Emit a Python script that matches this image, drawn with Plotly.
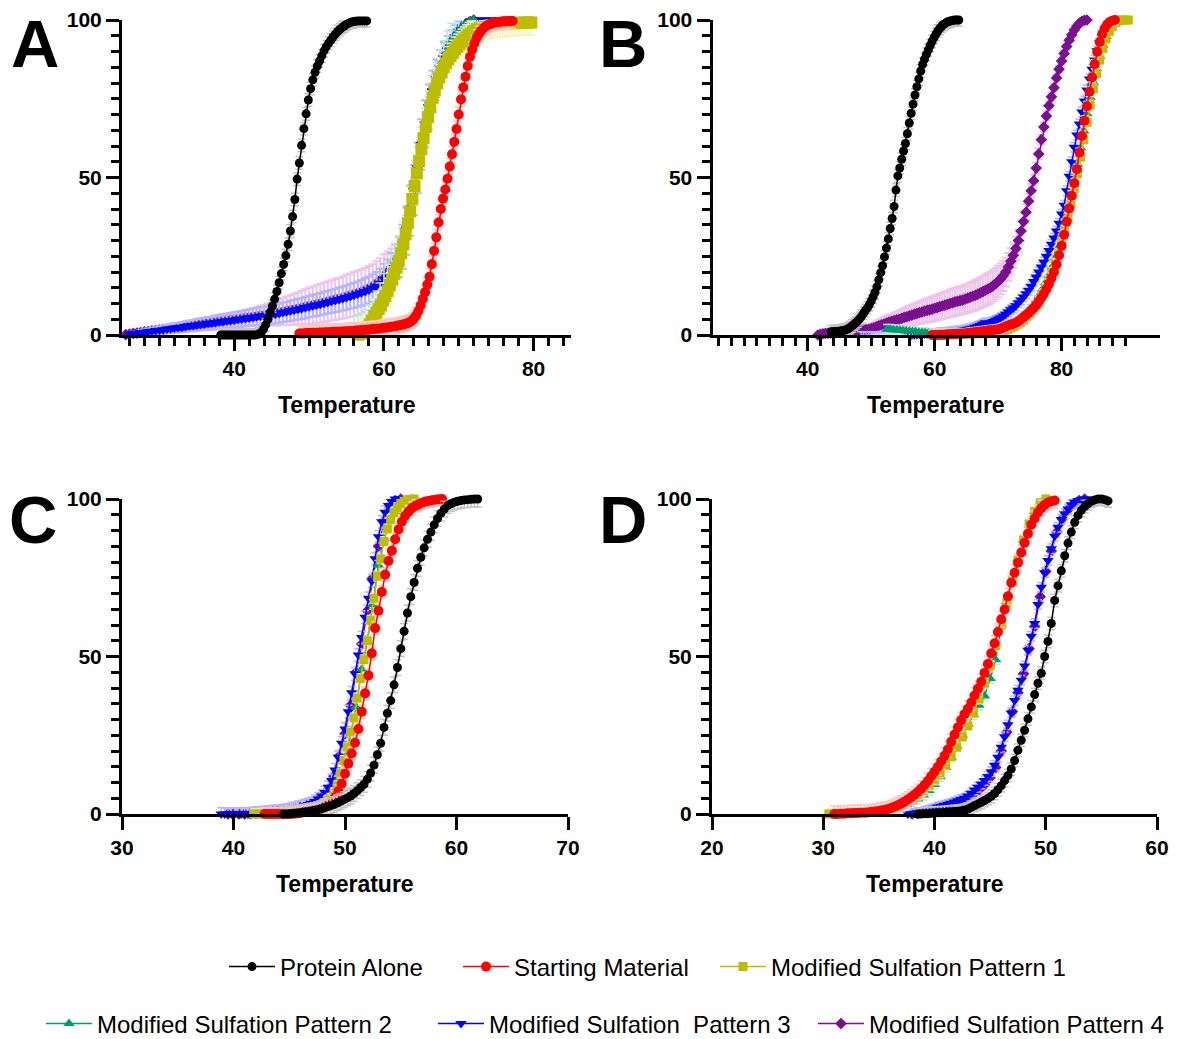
import plotly.graph_objects as go

FONT = "Arial, 'Liberation Sans', Helvetica, sans-serif"
W, H = 1180, 1039

# ---------------------------------------------------------------- series
NAMES = ["Protein Alone", "Starting Material", "Modified Sulfation Pattern 1",
         "Modified Sulfation Pattern 2", "Modified Sulfation\u00a0 Pattern 3",
         "Modified Sulfation Pattern 4"]
COLORS = ["#000000", "#FF0000", "#BDBD00", "#009B6E", "#0000FF", "#7A0F90"]
ERR_COLORS = ["#C4C4C4", "#FFC6C6", "#F5F5BE", "#B4EEDC", "#B4B4FF", "#EEC4EA"]
SYMBOLS = ["circle", "circle", "square", "triangle-up", "triangle-down", "diamond"]
SIZES = [9, 10, 9, 10, 10, 9]
SIZE_OVERRIDE = {("A", 2): 12}

# ---------------------------------------------------------------- panel A
a_protein_start, a_protein_step, a_protein_sd = 38.2, 0.3, 2.0
a_protein = [0, 0, 0, 0, 0, 0, 0, 0, 0, 0,
             0, 0, 0, 0, 0, 0, 0.1, 0.3, 0.8, 1.8,
             3.2, 5.0, 7.2, 9.2, 11.4, 13.8, 16.6, 19.5, 22.4, 25.2,
             28.8, 33.0, 37.6, 43.0, 49.5, 54.6, 60.2, 65.5, 70.2, 74.6,
             78.2, 81.0, 83.4, 85.4, 87.0, 88.6, 90.2, 91.5, 92.6, 93.6,
             94.6, 95.5, 96.3, 97.0, 97.6, 98.1, 98.6, 99.0, 99.3, 99.5,
             99.6, 99.7, 99.7, 99.7, 99.7, 99.7]

a_start_start, a_start_step, a_start_sd = 48.7, 0.3, 2.5
a_start = [0.5, 0.5, 0.5, 0.6, 0.6, 0.6, 0.7, 0.7, 0.7, 0.8,
           0.8, 0.8, 0.9, 0.9, 0.9, 1.0, 1.0, 1.0, 1.0, 1.1,
           1.1, 1.2, 1.2, 1.3, 1.3, 1.4, 1.4, 1.5, 1.5, 1.6,
           1.7, 1.7, 1.8, 1.9, 1.9, 2.0, 2.1, 2.2, 2.3, 2.4,
           2.5, 2.6, 2.7, 2.8, 3.0, 3.1, 3.3, 3.5, 3.7, 4.0,
           4.5, 5.2, 6.2, 7.6, 9.4, 11.5, 13.6, 16.0, 18.5, 22.5,
           26.7, 31.0, 35.7, 40.0, 43.3, 46.2, 49.6, 53.5, 57.4, 61.3,
           65.4, 70.0, 74.8, 78.6, 82.0, 85.4, 88.3, 90.6, 92.6, 94.4,
           95.6, 96.6, 97.4, 98.0, 98.4, 98.7, 99.0, 99.2, 99.3, 99.4,
           99.5, 99.6, 99.6, 99.7, 99.7, 99.7]

a_p1_start, a_p1_step, a_p1_sd = 53.0, 0.3, 4.0
a_p1 = [-0.8, -0.8, -0.8, -0.7, -0.7, -0.7, -0.6, -0.6, -0.5, -0.5,
        -0.4, -0.2, 0.1, 0.4, 0.9, 1.6, 2.4, 3.4, 4.6, 6.0,
        7.1, 8.2, 9.5, 10.9, 12.4, 14.0, 15.8, 17.6, 19.4, 21.4,
        23.6, 26.0, 28.8, 32.0, 35.5, 39.2, 43.2, 47.3, 51.3, 55.2,
        59.0, 62.5, 66.0, 69.2, 72.4, 75.3, 77.7, 79.9, 81.8, 83.5,
        85.0, 86.3, 87.5, 88.6, 89.6, 90.6, 91.5, 92.3, 93.1, 93.8,
        94.5, 95.2, 95.7, 96.2, 96.6, 97.0, 97.3, 97.6, 97.8, 98.0,
        98.2, 98.3, 98.4, 98.5, 98.6, 98.7, 98.7, 98.8, 98.8, 98.9,
        98.9, 99.0, 99.0, 99.1, 99.1, 99.1, 99.2, 99.2, 99.2, 99.2]

a_p2_start, a_p2_step, a_p2_sd = 56.0, 0.5, 6.0
a_p2 = [0.0, 0.3, 1.0, 2.0, 3.5, 5.5, 8.0, 10.5, 13.5, 16.5,
        19.5, 22.5, 25.5, 30.0, 35.0, 41.0, 47.0, 53.5, 60.0, 66.0,
        71.5, 76.5, 80.5, 84.5, 87.5, 90.5, 93.0, 95.0, 96.5, 97.8,
        98.8, 99.5, 100]

a_p3_start, a_p3_step = 26.0, 0.5
a_p3 = [0.3, 0.5, 0.6, 0.8, 0.9, 1.1, 1.2, 1.4, 1.5, 1.7,
        1.9, 2.0, 2.2, 2.4, 2.5, 2.7, 2.9, 3.0, 3.2, 3.4,
        3.5, 3.7, 3.8, 4.0, 4.2, 4.3, 4.5, 4.6, 4.8, 5.0,
        5.1, 5.3, 5.5, 5.6, 5.8, 6.0, 6.1, 6.3, 6.5, 6.7,
        6.9, 7.2, 7.4, 7.7, 7.9, 8.2, 8.4, 8.7, 9.0, 9.3,
        9.5, 9.8, 10.1, 10.4, 10.7, 11.0, 11.3, 11.6, 11.9, 12.3,
        12.6, 13.0, 13.4, 13.8, 14.3, 14.9, 15.5, 16.4, 17.8, 19.0,
        20.5, 22.5, 24.8, 28.0, 33.0, 39.5, 46.0, 53.0, 60.5, 67.0,
        72.5, 77.5, 81.5, 85.0, 88.0, 90.5, 92.8, 94.8, 96.5, 97.8,
        98.8, 99.5, 100, 100, 100, 100, 100, 100, 100, 100]
a_p3_sd = [0.5, 0.6, 0.7, 0.8, 0.9, 1.0, 1.0, 1.1, 1.2, 1.3,
           1.3, 1.4, 1.5, 1.5, 1.6, 1.7, 1.7, 1.8, 1.9, 1.9,
           2.0, 2.0, 2.1, 2.2, 2.2, 2.3, 2.3, 2.4, 2.4, 2.5,
           2.5, 2.6, 2.6, 2.7, 2.7, 2.8, 2.8, 2.9, 2.9, 3.0,
           3.0, 3.1, 3.1, 3.2, 3.2, 3.3, 3.3, 3.4, 3.4, 3.5,
           3.5, 3.5, 3.6, 3.6, 3.7, 3.7, 3.8, 3.8, 3.9, 3.9,
           4.0, 4.0, 4.1, 4.2, 4.3, 4.4, 4.5, 4.6, 4.8, 5.0,
           5.5, 6.0, 6.5, 7.0, 7.5, 8.0, 8.0, 8.0, 8.0, 7.5,
           7.0, 6.5, 6.0, 5.5, 5.0, 4.5, 4.0, 3.5, 3.0, 2.5,
           2.0, 1.5, 1.0, 0.5, 0.0, 0.0, 0.0, 0.0, 0.0, 0.0]

a_p4_start, a_p4_step = 25.5, 0.5
a_p4 = [0.1, 0.3, 0.5, 0.6, 0.8, 1.0, 1.1, 1.3, 1.4, 1.6,
        1.8, 1.9, 2.1, 2.3, 2.4, 2.6, 2.8, 2.9, 3.1, 3.3,
        3.4, 3.6, 3.8, 3.9, 4.1, 4.3, 4.4, 4.6, 4.8, 4.9,
        5.1, 5.3, 5.5, 5.6, 5.8, 6.0, 6.2, 6.3, 6.5, 6.7,
        6.9, 7.2, 7.4, 7.7, 7.9, 8.2, 8.4, 8.7, 9.0, 9.3,
        9.5, 9.8, 10.1, 10.4, 10.7, 11.0, 11.3, 11.6, 11.9, 12.3,
        12.6, 13.0, 13.4, 13.8, 14.3, 14.9, 15.5, 16.4, 17.4, 18.6,
        20.0, 21.5, 23.5, 26.0, 29.5, 34.0, 40.0, 46.5, 53.5, 61.0,
        67.5, 73.0, 78.0, 82.0, 85.5, 88.5, 91.0, 93.2, 95.0, 96.6,
        97.9, 98.9, 99.5, 100]
a_p4_sd = [0.2, 0.2, 0.3, 0.3, 0.4, 0.4, 0.5, 0.5, 0.6, 0.6,
           0.7, 0.7, 0.8, 0.8, 0.9, 0.9, 1.0, 1.0, 1.1, 1.1,
           1.2, 1.2, 1.3, 1.4, 1.5, 1.6, 1.7, 1.8, 1.9, 2.0,
           2.1, 2.2, 2.3, 2.5, 2.7, 2.9, 3.1, 3.3, 3.5, 3.7,
           3.9, 4.1, 4.3, 4.5, 4.7, 4.9, 5.1, 5.3, 5.5, 5.7,
           5.9, 6.0, 6.1, 6.2, 6.3, 6.4, 6.5, 6.6, 6.7, 6.8,
           6.9, 7.0, 7.0, 7.0, 7.0, 7.0, 7.0, 7.0, 7.0, 7.0,
           6.5, 6.0, 5.5, 5.0, 4.5, 4.0, 3.5, 3.0, 2.5, 2.5,
           2.5, 2.5, 2.0, 2.0, 1.5, 1.5, 1.0, 1.0, 1.0, 1.0,
           0.5, 0.5, 0.0, 0.0]

# ---------------------------------------------------------------- panel B
b_protein_start, b_protein_step, b_protein_sd = 43.7, 0.3, 2.0
b_protein = [1.0, 1.0, 1.1, 1.1, 1.2, 1.3, 1.4, 1.5, 1.7, 2.0,
             2.4, 2.9, 3.4, 3.9, 4.5, 5.2, 6.0, 6.9, 7.8, 8.6,
             9.6, 10.8, 12.1, 13.5, 15.3, 17.5, 19.8, 22.0, 24.8, 27.6,
             30.5, 33.8, 37.0, 40.8, 46.0, 50.5, 53.0, 55.8, 58.4, 60.8,
             63.9, 67.3, 70.4, 73.3, 76.2, 78.8, 81.3, 83.8, 85.9, 87.6,
             89.1, 90.5, 91.9, 93.2, 94.4, 95.5, 96.5, 97.3, 98.0, 98.6,
             99.0, 99.4, 99.6, 99.8, 99.9, 100, 100, 100]

b_start_start, b_start_step, b_start_sd = 59.6, 0.4, 1.5
b_start = [0.0, 0.0, 0.0, 0.1, 0.1, 0.1, 0.2, 0.2, 0.3, 0.3,
           0.4, 0.4, 0.5, 0.5, 0.6, 0.7, 0.8, 0.9, 1.0, 1.1,
           1.2, 1.3, 1.4, 1.5, 1.6, 1.7, 1.8, 2.0, 2.4, 2.7,
           3.0, 3.3, 3.6, 3.9, 4.4, 5.0, 5.6, 6.3, 7.0, 7.8,
           8.6, 9.5, 10.6, 11.8, 13.1, 14.6, 16.3, 18.1, 20.0, 22.4,
           25.3, 28.3, 31.8, 36.0, 40.2, 44.2, 48.2, 52.6, 57.9, 63.2,
           68.0, 72.6, 77.2, 81.8, 86.0, 89.9, 93.0, 95.6, 97.4, 98.6,
           99.4, 99.8, 100]

b_p1_start, b_p1_step, b_p1_sd = 60.0, 0.5, 1.5
b_p1 = [0.0, 0.0, 0.0, 0.0, 0.1, 0.1, 0.1, 0.2, 0.2, 0.2,
        0.3, 0.3, 0.4, 0.4, 0.5, 0.6, 0.7, 0.8, 0.9, 1.0,
        1.1, 1.3, 1.5, 1.8, 2.2, 2.7, 3.3, 4.0, 4.8, 5.8,
        6.9, 8.1, 9.5, 11.1, 12.9, 14.9, 17.2, 19.8, 22.8, 26.0,
        29.5, 33.3, 37.4, 41.8, 46.4, 51.2, 56.5, 62.0, 67.5, 73.0,
        78.2, 83.0, 87.3, 91.0, 94.0, 96.4, 98.0, 99.2, 99.8, 100,
        100, 100]

b_p2_start, b_p2_step, b_p2_sd = 52.5, 0.5, 1.5
b_p2 = [1.8, 1.8, 1.7, 1.6, 1.5, 1.4, 1.3, 1.2, 1.1, 1.0,
        0.9, 0.8, 0.7, 0.6, 0.5, 0.4, 0.4, 0.3, 0.3, 0.3,
        0.3, 0.3, 0.3, 0.3, 0.4, 0.4, 0.5, 0.5, 0.6, 0.7,
        0.8, 0.9, 1.0, 1.1, 1.3, 1.5, 1.8, 2.1, 2.5, 3.0,
        3.6, 4.3, 5.1, 6.0, 7.0, 8.2, 9.5, 11.0, 12.7, 14.6,
        16.7, 19.0, 21.6, 24.5, 27.8, 31.4, 35.4, 39.8, 44.4, 49.2,
        54.2, 59.4, 64.8, 70.2, 75.4, 80.2, 84.6, 88.5, 92.0, 94.8,
        97.0, 98.5, 99.5, 100]

b_p3_start, b_p3_step, b_p3_sd = 48.4, 0.4, 1.5
b_p3 = [-0.5, -0.6, -0.6, -0.6, -0.6, -0.5, -0.5, -0.5, -0.4, -0.4,
        -0.4, -0.3, -0.3, -0.3, -0.2, -0.2, -0.2, -0.1, -0.1, 0.0,
        0.0, 0.1, 0.1, 0.2, 0.2, 0.3, 0.3, 0.4, 0.5, 0.5,
        0.6, 0.7, 0.7, 0.8, 0.9, 1.0, 1.1, 1.2, 1.3, 1.4,
        1.5, 1.6, 1.8, 2.0, 2.2, 2.5, 2.8, 3.1, 3.5, 3.9,
        3.6, 3.9, 4.3, 4.7, 5.1, 5.5, 6.0, 6.6, 7.3, 8.0,
        8.6, 9.3, 10.2, 11.1, 12.1, 13.1, 14.2, 15.5, 17.0, 18.4,
        20.0, 21.6, 23.2, 25.0, 26.8, 28.8, 30.8, 33.0, 35.5, 38.4,
        41.2, 45.8, 50.4, 55.0, 59.6, 63.5, 67.0, 70.8, 74.3, 77.8,
        81.3, 84.4, 87.3, 90.2, 92.7, 94.8, 96.6, 98.0, 99.0, 99.7,
        100]

b_p4_start, b_p4_step = 41.6, 0.4
b_p4 = [0.0, 0.2, 0.4, 0.5, 0.6, 0.7, 0.8, 0.9, 1.0, 1.0,
        1.1, 1.1, 1.2, 1.3, 1.3, 1.4, 1.5, 1.6, 1.7, 1.7,
        1.8, 2.0, 2.3, 2.6, 2.9, 3.2, 3.5, 3.8, 4.1, 4.3,
        4.6, 4.8, 5.0, 5.3, 5.6, 5.8, 6.1, 6.3, 6.6, 6.8,
        7.1, 7.3, 7.6, 7.8, 8.0, 8.2, 8.5, 8.7, 9.0, 9.2,
        9.5, 9.7, 10.0, 10.2, 10.5, 10.7, 10.9, 11.1, 11.4, 11.7,
        12.0, 12.3, 12.6, 13.0, 13.4, 13.8, 14.2, 14.6, 15.0, 15.6,
        16.3, 17.0, 17.8, 18.8, 20.0, 21.6, 23.4, 25.3, 27.5, 30.0,
        33.0, 36.0, 39.0, 42.5, 45.8, 49.0, 53.0, 57.5, 62.0, 66.0,
        69.5, 72.8, 75.6, 78.5, 81.6, 84.4, 87.0, 89.4, 91.6, 93.6,
        95.3, 96.8, 98.0, 99.0, 99.6, 99.9, 100]
b_p4_sd = [0.5, 0.6, 0.7, 0.8, 0.8, 0.9, 0.9, 1.0, 1.0, 1.0,
           1.0, 1.1, 1.1, 1.2, 1.2, 1.3, 1.3, 1.4, 1.4, 1.5,
           1.5, 1.6, 1.7, 1.8, 1.9, 2.0, 2.1, 2.2, 2.3, 2.4,
           2.5, 2.6, 2.7, 2.8, 2.9, 3.0, 3.1, 3.2, 3.3, 3.4,
           3.5, 3.6, 3.7, 3.8, 3.9, 4.0, 4.0, 4.1, 4.1, 4.2,
           4.2, 4.3, 4.3, 4.4, 4.4, 4.5, 4.5, 4.5, 4.6, 4.6,
           4.7, 4.7, 4.8, 4.8, 4.9, 4.9, 5.0, 5.0, 5.0, 5.0,
           5.0, 5.0, 4.9, 4.8, 4.6, 4.4, 4.2, 4.0, 3.7, 3.4,
           3.1, 2.8, 2.5, 2.3, 2.1, 1.9, 1.8, 1.7, 1.6, 1.5,
           1.4, 1.3, 1.2, 1.1, 1.0, 1.0, 0.9, 0.8, 0.7, 0.6,
           0.5, 0.4, 0.3, 0.3, 0.2, 0.1, 0.0]

# ---------------------------------------------------------------- panel C
c_protein_start, c_protein_step, c_protein_sd = 44.5, 0.3, 2.5
c_protein = [0, 0, 0.1, 0.2, 0.3, 0.4, 0.6, 0.7, 0.9, 1.1,
             1.3, 1.6, 1.9, 2.3, 2.6, 3.0, 3.5, 4.0, 4.6, 5.1,
             5.7, 6.5, 7.4, 8.4, 9.4, 11.0, 13.0, 15.5, 18.8, 22.5,
             27.5, 32.0, 36.0, 41.0, 46.5, 52.5, 58.0, 63.8, 69.0, 73.5,
             78.0, 81.5, 84.5, 87.2, 89.5, 91.8, 93.8, 95.5, 96.8, 97.9,
             98.5, 99.0, 99.3, 99.5, 99.7, 99.8, 99.9, 100, 100]

c_start_start, c_start_step, c_start_sd = 42.8, 0.3, 2.0
c_start = [0, 0, 0, 0, 0, 0, 0, 0, 0, 0.1,
           0.2, 0.4, 0.6, 0.8, 1.0, 1.2, 1.4, 1.7, 2.3, 3.0,
           4.0, 5.3, 7.2, 9.6, 12.8, 16.0, 19.2, 22.6, 27.0, 32.5,
           38.3, 44.0, 51.0, 59.0, 64.5, 70.5, 76.0, 80.3, 83.6, 87.2,
           90.3, 92.8, 94.7, 96.0, 97.1, 97.8, 98.3, 98.8, 99.2, 99.4,
           99.6, 99.8, 99.9, 100]

c_p1_start, c_p1_step, c_p1_sd = 41.8, 0.3, 1.5
c_p1 = [0, 0, 0, 0, 0.1, 0.1, 0.2, 0.3, 0.4, 0.5,
        0.6, 0.7, 0.8, 0.9, 1.0, 1.2, 1.4, 1.6, 1.8, 2.1,
        2.6, 3.3, 4.2, 5.0, 6.5, 9.0, 12.8, 17.0, 21.3, 26.0,
        30.5, 36.8, 43.0, 49.0, 55.0, 61.5, 68.5, 75.5, 81.0, 86.5,
        90.5, 93.5, 95.7, 97.2, 98.5, 99.3, 99.7, 99.9, 100]

c_p2_start, c_p2_step, c_p2_sd = 42.0, 0.5, 1.5
c_p2 = [0, 0, 0.1, 0.2, 0.4, 0.5, 0.7, 0.9, 1.1, 1.4,
        1.7, 2.2, 3.0, 4.5, 6.8, 11.5, 18.0, 25.0, 34.0, 46.0,
        54.5, 66.5, 79.0, 87.5, 92.5, 96.0, 98.6, 99.8, 100]

c_p3_start, c_p3_step, c_p3_sd = 38.9, 0.3, 2.0
c_p3 = [0, 0, 0, 0, 0, 0, 0, 0, 0, 0.1,
        0.2, 0.3, 0.4, 0.5, 0.6, 0.7, 0.8, 0.9, 1.0, 1.1,
        1.3, 1.5, 1.8, 2.1, 2.4, 2.7, 3.0, 3.3, 4.0, 4.8,
        5.7, 6.8, 8.5, 10.6, 14.0, 18.0, 22.5, 27.0, 32.5, 38.5,
        44.5, 50.5, 56.0, 62.5, 68.5, 74.0, 81.0, 88.0, 92.8, 95.8,
        97.9, 99.2, 100, 100, 100, 100]

c_p4_start, c_p4_step, c_p4_sd = 39.5, 0.5, 1.5
c_p4 = [0, 0, 0, 0, 0.1, 0.3, 0.4, 0.6, 0.7, 0.9,
        1.1, 1.3, 1.7, 2.2, 2.7, 3.2, 4.2, 5.5, 7.8, 12.0,
        18.5, 25.5, 34.5, 45.0, 54.0, 64.5, 75.0, 85.0, 93.0, 97.5,
        99.5, 100]

# ---------------------------------------------------------------- panel D
d_protein_start, d_protein_step, d_protein_sd = 38.5, 0.3, 2.0
d_protein = [0, 0, 0.1, 0.1, 0.2, 0.3, 0.4, 0.4, 0.5, 0.6,
             0.7, 0.8, 0.9, 1.0, 1.2, 1.6, 2.1, 2.7, 3.2, 3.7,
             4.3, 4.9, 5.6, 6.5, 7.7, 9.0, 10.6, 12.2, 14.3, 17.0,
             20.2, 23.4, 26.6, 30.2, 34.0, 37.9, 41.5, 44.7, 50.0, 54.8,
             60.5, 67.8, 72.5, 77.2, 82.0, 86.0, 89.5, 92.6, 94.8, 96.4,
             97.6, 98.5, 99.3, 99.7, 100, 100, 99.8, 99.4]

d_start_start, d_start_step, d_start_sd = 31.0, 0.3, 2.5
d_start = [0, 0, 0.1, 0.1, 0.2, 0.2, 0.3, 0.3, 0.4, 0.4,
           0.5, 0.6, 0.7, 0.9, 1.1, 1.3, 1.5, 1.9, 2.3, 2.8,
           3.3, 3.9, 4.6, 5.3, 6.1, 7.0, 8.0, 9.2, 10.5, 12.0,
           13.4, 14.9, 16.7, 18.5, 20.5, 22.9, 25.2, 27.5, 29.8, 31.7,
           33.4, 35.4, 37.6, 39.8, 42.0, 44.8, 47.6, 51.0, 54.2, 57.8,
           61.8, 64.9, 69.1, 73.4, 76.6, 79.8, 83.0, 86.1, 89.0, 91.8,
           93.8, 95.7, 97.1, 98.2, 98.9, 99.3, 99.5]

d_p1_start, d_p1_step, d_p1_sd = 30.5, 0.5, 1.5
d_p1 = [0, 0, 0.1, 0.2, 0.3, 0.4, 0.5, 0.7, 0.9, 1.1,
        1.4, 1.8, 2.3, 3.0, 3.8, 4.8, 6.0, 7.4, 9.0, 10.8,
        13.0, 15.5, 18.2, 21.2, 24.5, 28.0, 32.0, 36.5, 41.5, 47.0,
        53.5, 60.0, 67.0, 74.0, 80.5, 87.0, 92.0, 96.0, 98.8, 100]

d_p2_start, d_p2_step, d_p2_sd = 31.0, 0.5, 1.5
d_p2 = [0, 0, 0.1, 0.2, 0.3, 0.4, 0.5, 0.7, 0.9, 1.1,
        1.4, 1.8, 2.3, 3.0, 3.8, 4.8, 6.0, 7.5, 9.4, 11.8,
        14.8, 18.0, 21.5, 25.0, 28.5, 31.5, 34.5, 37.5, 43.0, 49.0,
        60.0, 67.5, 74.5, 81.0, 87.0, 92.0, 96.0, 98.8, 100]

d_p3_start, d_p3_step, d_p3_sd = 37.6, 0.3, 1.5
d_p3 = [0, 0.1, 0.2, 0.3, 0.5, 0.8, 1.1, 1.4, 1.8, 2.2,
        2.5, 2.8, 3.1, 3.4, 3.8, 4.2, 4.6, 5.0, 5.7, 6.6,
        7.6, 8.5, 9.5, 10.6, 11.9, 13.4, 15.5, 18.0, 21.2, 24.5,
        28.3, 32.1, 36.0, 39.3, 42.5, 47.0, 52.0, 56.4, 60.5, 66.5,
        72.0, 76.6, 80.5, 84.2, 88.2, 91.0, 93.5, 95.3, 96.8, 98.2,
        99.0, 99.5, 99.8, 100, 100]

d_p4_start, d_p4_step, d_p4_sd = 38.0, 0.5, 1.5
d_p4 = [0, 0.2, 0.6, 1.1, 1.6, 2.1, 2.6, 3.1, 3.6, 4.2,
        5.0, 6.2, 7.6, 9.3, 11.5, 14.8, 20.0, 26.0, 32.5, 38.5,
        44.5, 52.5, 59.5, 69.0, 77.0, 83.5, 89.5, 93.8, 96.6, 98.5,
        99.5, 100]

# ---------------------------------------------------------------- layout numbers (pixels)
PANEL_BOX = {            # x-left, x-right, y-top(100), y-bottom(0)
    "A": (122, 571, 20, 335),
    "B": (712.5, 1160, 20, 335),
    "C": (122, 568, 499, 814),
    "D": (712, 1157, 499, 814),
}
X_RANGE = {"A": [25, 85], "B": [25, 95.5], "C": [30, 70], "D": [20, 60]}
X_MAJOR = {"A": [40, 60, 80], "B": [40, 60, 80],
           "C": [30, 40, 50, 60, 70], "D": [20, 30, 40, 50, 60]}
X_MINOR = {"A": list(range(26, 85, 2)), "B": list(range(26, 91, 2)), "C": None, "D": None}

# drawing order: last series sits on top
PANEL_SERIES = {
    "A": [(5, a_p4_start, a_p4_step, a_p4, a_p4_sd),
          (4, a_p3_start, a_p3_step, a_p3, a_p3_sd),
          (3, a_p2_start, a_p2_step, a_p2, a_p2_sd),
          (2, a_p1_start, a_p1_step, a_p1, a_p1_sd),
          (1, a_start_start, a_start_step, a_start, a_start_sd),
          (0, a_protein_start, a_protein_step, a_protein, a_protein_sd)],
    "B": [(5, b_p4_start, b_p4_step, b_p4, b_p4_sd),
          (4, b_p3_start, b_p3_step, b_p3, b_p3_sd),
          (3, b_p2_start, b_p2_step, b_p2, b_p2_sd),
          (2, b_p1_start, b_p1_step, b_p1, b_p1_sd),
          (1, b_start_start, b_start_step, b_start, b_start_sd),
          (0, b_protein_start, b_protein_step, b_protein, b_protein_sd)],
    "C": [(5, c_p4_start, c_p4_step, c_p4, c_p4_sd),
          (4, c_p3_start, c_p3_step, c_p3, c_p3_sd),
          (3, c_p2_start, c_p2_step, c_p2, c_p2_sd),
          (2, c_p1_start, c_p1_step, c_p1, c_p1_sd),
          (1, c_start_start, c_start_step, c_start, c_start_sd),
          (0, c_protein_start, c_protein_step, c_protein, c_protein_sd)],
    "D": [(5, d_p4_start, d_p4_step, d_p4, d_p4_sd),
          (4, d_p3_start, d_p3_step, d_p3, d_p3_sd),
          (3, d_p2_start, d_p2_step, d_p2, d_p2_sd),
          (2, d_p1_start, d_p1_step, d_p1, d_p1_sd),
          (1, d_start_start, d_start_step, d_start, d_start_sd),
          (0, d_protein_start, d_protein_step, d_protein, d_protein_sd)],
}

# legend entry positions: (symbol line start x, row centre y)
LEGEND_POS = [(229, 967), (463, 967), (720, 967), (46, 1024), (438, 1024), (818, 1024)]
LEGEND_ITEM_WIDTH = 46


def temps(t0, dt, n):
    return [round(t0 + dt * i, 2) for i in range(n)]


def px_x(v):
    return v / W


def px_y(v):
    return 1 - v / H


fig = go.Figure()
AXIS_IDS = {"A": ("x", "y"), "B": ("x2", "y2"), "C": ("x3", "y3"), "D": ("x4", "y4")}

for panel, series in PANEL_SERIES.items():
    xa, ya = AXIS_IDS[panel]
    for idx, t0, dt, vals, sd in series:
        if isinstance(sd, list):
            err = dict(type="data", array=sd, color=ERR_COLORS[idx], thickness=2, width=4)
        else:
            err = dict(type="constant", value=sd, color=ERR_COLORS[idx], thickness=1.5, width=4)
        size = SIZE_OVERRIDE.get((panel, idx), SIZES[idx])
        fig.add_trace(go.Scatter(
            x=temps(t0, dt, len(vals)), y=vals, name=NAMES[idx],
            mode="lines+markers",
            line=dict(color=COLORS[idx], width=1.5),
            marker=dict(symbol=SYMBOLS[idx], size=size, color=COLORS[idx], line=dict(width=0)),
            error_y=err, cliponaxis=False,
            xaxis=xa, yaxis=ya,
            showlegend=(panel == "C"),
            legend="legend" if idx == 0 else f"legend{idx + 1}",
            legendgroup=NAMES[idx],
        ))

tick_font = dict(family=FONT, size=21, color="black", weight="bold")
layout = dict(width=W, height=H, margin=dict(l=0, r=0, t=0, b=0, autoexpand=False),
              paper_bgcolor="white", plot_bgcolor="white", font=dict(family=FONT, color="black"))

for panel, (xl, xr, yt, yb) in PANEL_BOX.items():
    xa, ya = AXIS_IDS[panel]
    xkey = "xaxis" if xa == "x" else "xaxis" + xa[1:]
    ykey = "yaxis" if ya == "y" else "yaxis" + ya[1:]
    xaxis = dict(domain=[px_x(xl), px_x(xr)], range=X_RANGE[panel], anchor=ya,
                 showline=True, linewidth=3, linecolor="black",
                 ticks="outside", ticklen=13, tickwidth=3, tickcolor="black",
                 tickmode="array", tickvals=X_MAJOR[panel], tickfont=tick_font,
                 showgrid=False, zeroline=False, fixedrange=True)
    if X_MINOR[panel]:
        xaxis["minor"] = dict(tickmode="array", tickvals=X_MINOR[panel], ticks="outside",
                              ticklen=8, tickwidth=3, tickcolor="black", showgrid=False)
    yaxis = dict(domain=[px_y(yb), px_y(yt)], range=[0, 100], anchor=xa,
                 showline=True, linewidth=3, linecolor="black",
                 ticks="outside", ticklen=13, tickwidth=3, tickcolor="black",
                 tickmode="array", tickvals=[0, 50, 100], tickfont=tick_font,
                 minor=dict(tickmode="array", tickvals=[v for v in range(5, 100, 5) if v != 50],
                            ticks="outside", ticklen=8, tickwidth=3, tickcolor="black", showgrid=False),
                 showgrid=False, zeroline=False, fixedrange=True)
    layout[xkey] = xaxis
    layout[ykey] = yaxis

annotations = []
for panel, (lx, ly) in {"A": (35, 44), "B": (623, 44), "C": (33, 519), "D": (623, 519)}.items():
    annotations.append(dict(text=panel, x=px_x(lx), y=px_y(ly), xref="paper", yref="paper",
                            xanchor="center", yanchor="middle", showarrow=False,
                            font=dict(family=FONT, size=67, color="black", weight="bold")))
for panel, (xl, xr, yt, yb) in PANEL_BOX.items():
    annotations.append(dict(text="Temperature", x=px_x((xl + xr) / 2), y=px_y(yb + 70),
                            xref="paper", yref="paper", xanchor="center", yanchor="middle",
                            showarrow=False,
                            font=dict(family=FONT, size=23, color="black", weight="bold")))
layout["annotations"] = annotations

for i, (lx, ly) in enumerate(LEGEND_POS):
    key = "legend" if i == 0 else f"legend{i + 1}"
    layout[key] = dict(x=px_x(lx - 5), y=px_y(ly), xanchor="left", yanchor="middle",
                       orientation="h", bgcolor="rgba(0,0,0,0)", borderwidth=0,
                       itemwidth=LEGEND_ITEM_WIDTH, font=dict(family=FONT, size=24, color="black"))

fig.update_layout(**layout)
fig.write_html("out.html")
